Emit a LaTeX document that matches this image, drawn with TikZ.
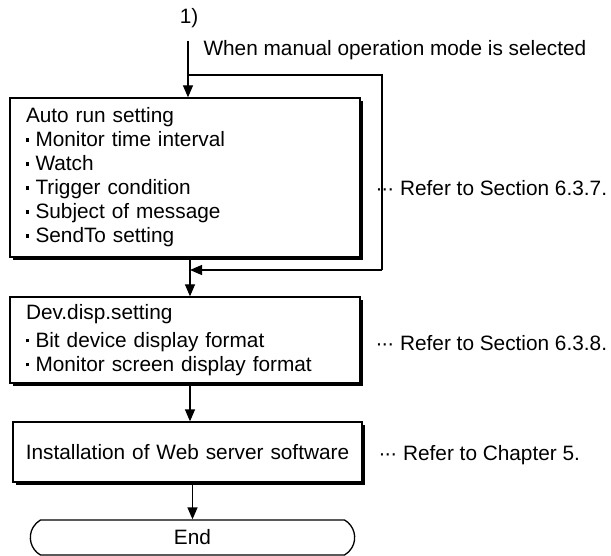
\documentclass[tikz,border=0pt]{standalone}
\usepackage{fontspec}
\setmainfont{Liberation Sans}
\usetikzlibrary{arrows.meta,shapes.misc,shadows}

\newcommand{\sqbullet}{\rule[5pt]{3.5pt}{3.5pt}\hspace{6pt}}
\newcommand{\refdots}{\textperiodcentered\kern-1pt\textperiodcentered\kern-1pt\textperiodcentered\ }

\tikzset{
    flowbox/.style={draw, fill=white, line width=1.3pt, minimum width=350pt,
        inner xsep=16pt, text width=318pt, align=left,
        drop shadow={shadow xshift=3pt, shadow yshift=-3pt, opacity=1, fill=black}},
    endbox/.style={draw, line width=1.3pt, rounded rectangle, rounded rectangle arc length=120,
        minimum width=331pt, minimum height=35pt},
    arr/.style={line width=1.3pt, -{Triangle[length=12pt,width=10pt]}},
    line/.style={line width=1.3pt}
}

\begin{document}
\begin{tikzpicture}[x=1pt, y=-1pt, font=\fontsize{20.8}{24}\selectfont]
        \useasboundingbox (0,0) rectangle (611,556);

        % Draw the boxes
        \node[flowbox, minimum height=159pt] (auto) at (185,177.5) {Auto run setting\\
            \sqbullet Monitor time interval\\
            \sqbullet Watch\\
            \sqbullet Trigger condition\\
            \sqbullet Subject of message\\
            \sqbullet SendTo setting};
        \node[flowbox, minimum height=86pt] (disp) at (185,340) {Dev.disp.setting\\[4pt]
            \sqbullet Bit device display format\\
            \sqbullet Monitor screen display format};
        \node[flowbox, minimum width=349pt, minimum height=60pt, inner xsep=4pt,
            text width=340pt, align=center] (inst) at (187.5,452)
            {Installation of Web server software};
        \node[endbox] (end) at (192.5,537.5) {End};

        % Entry point and the manual mode branch
        \node (one) at (189,18) {1)};
        \coordinate (top) at (188,41);
        \coordinate (split) at (188,75);
        \coordinate (join) at (190,270);
        \draw[arr] (top) -- (auto.north -| top);
        \draw[line] (split) -- (382,75) -- (382,270) coordinate (back);
        \draw[arr] (back) -- (join);
        \node[anchor=west] (manual) at (200,50) {When manual operation mode is selected};

        % Arrows between the boxes
        \draw[arr] (auto.south -| join) -- (disp.north -| join);
        \draw[arr] (disp.south -| join) -- (inst.north -| join);
        \draw[arr] (inst.south -| end) -- (end.north);

        % References
        \node[anchor=west] (ref1) at (372,188) {\refdots Refer to Section 6.3.7.};
        \node[anchor=west] (ref2) at (372,343) {\refdots Refer to Section 6.3.8.};
        \node[anchor=west] (ref3) at (375,455) {\refdots Refer to Chapter 5.};
    \end{tikzpicture}
\end{document}
